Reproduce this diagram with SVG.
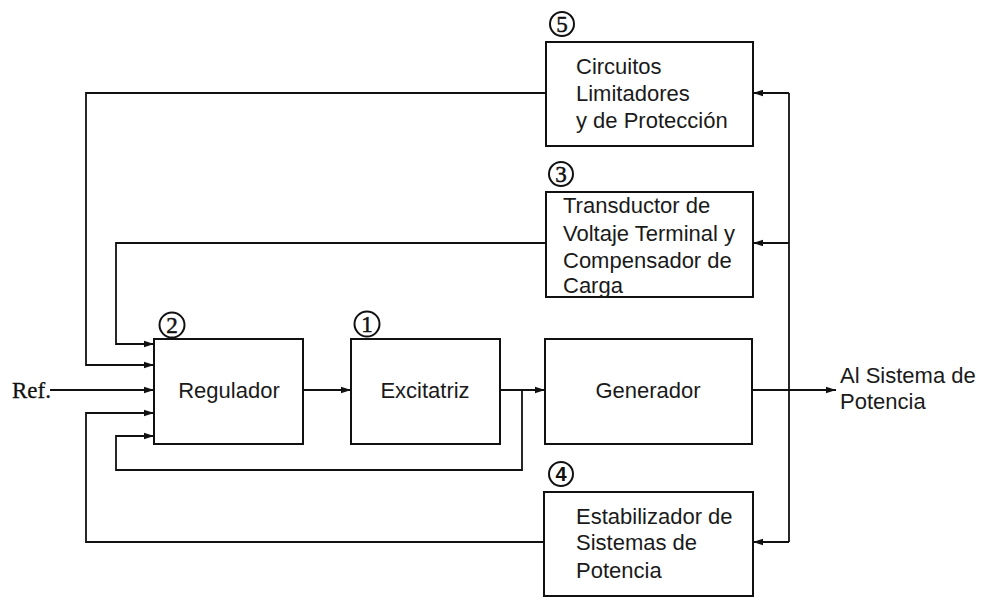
<svg xmlns="http://www.w3.org/2000/svg" width="981" height="597" viewBox="0 0 981 597">
  <style>
    .box { fill: #fff; stroke: #111; stroke-width: 2; }
    .wire { fill: none; stroke: #111; stroke-width: 1.8; }
    .lbl { font-family: "Liberation Sans", Arial, sans-serif; font-size: 22px; fill: #1a1a1a; }
    .mid { text-anchor: middle; }
    .num { fill: none; stroke: #111; stroke-width: 2; }
    .digit { font-family: "Liberation Serif", "Times New Roman", serif; font-size: 23px; fill: #111; stroke: #111; stroke-width: 0.5; text-anchor: middle; }
    .digit-s { font-family: "Liberation Sans", Arial, sans-serif; font-size: 20px; font-weight: bold; fill: #111; text-anchor: middle; }
    .ref { font-family: "Liberation Serif", "Times New Roman", serif; font-size: 23px; fill: #111; stroke: #111; stroke-width: 0.3; }
  </style>
  <defs>
    <marker id="arr" viewBox="0 0 10 8" refX="10" refY="4" markerWidth="10" markerHeight="8" markerUnits="userSpaceOnUse" orient="auto">
      <path d="M0,0.8 L10,4 L0,7.2 Z" fill="#111"/>
    </marker>
  </defs>
  <rect width="981" height="597" fill="#fff"/>

  <g id="connectors">
    <!-- reference input -->
    <line class="wire" x1="50" y1="390" x2="154" y2="390" marker-end="url(#arr)"/>
    <!-- forward path -->
    <line class="wire" x1="303" y1="390" x2="351" y2="390" marker-end="url(#arr)"/>
    <line class="wire" x1="500" y1="390" x2="545" y2="390" marker-end="url(#arr)"/>
    <line class="wire" x1="752" y1="390" x2="836" y2="390" marker-end="url(#arr)"/>
    <!-- exciter output feedback -->
    <polyline class="wire" points="522,390 522,470 116,470 116,436 154,436" marker-end="url(#arr)"/>
    <!-- limiter feedback -->
    <polyline class="wire" points="546,93 86,93 86,365 154,365" marker-end="url(#arr)"/>
    <!-- transducer feedback -->
    <polyline class="wire" points="546,243 116,243 116,344 154,344" marker-end="url(#arr)"/>
    <!-- stabilizer feedback -->
    <polyline class="wire" points="544,542 86,542 86,413 154,413" marker-end="url(#arr)"/>
    <!-- measurement bus on the right -->
    <line class="wire" x1="789" y1="93" x2="789" y2="542"/>
    <line class="wire" x1="789" y1="93" x2="753" y2="93" marker-end="url(#arr)"/>
    <line class="wire" x1="789" y1="243" x2="753" y2="243" marker-end="url(#arr)"/>
    <line class="wire" x1="789" y1="542" x2="753" y2="542" marker-end="url(#arr)"/>
  </g>

  <g id="ref-label">
    <text class="ref" x="12" y="398">Ref.</text>
  </g>

  <g id="regulador">
    <rect class="box" x="154" y="339" width="149" height="105"/>
    <text class="lbl mid" x="229" y="398">Regulador</text>
    <circle class="num" cx="172" cy="325" r="12.5"/>
    <text class="digit" x="172" y="333">2</text>
  </g>

  <g id="excitatriz">
    <rect class="box" x="351" y="339" width="149" height="105"/>
    <text class="lbl mid" x="425" y="398">Excitatriz</text>
    <circle class="num" cx="367" cy="324" r="12.5"/>
    <text class="digit" x="367" y="332">1</text>
  </g>

  <g id="generador">
    <rect class="box" x="545" y="339" width="207" height="105"/>
    <text class="lbl mid" x="648" y="398">Generador</text>
  </g>

  <g id="circuitos-limitadores">
    <rect class="box" x="546" y="42" width="207" height="104"/>
    <text class="lbl" x="576" y="74">Circuitos</text>
    <text class="lbl" x="576" y="101">Limitadores</text>
    <text class="lbl" x="576" y="128">y de Protección</text>
    <circle class="num" cx="562" cy="24" r="12"/>
    <text class="digit" x="562" y="32">5</text>
  </g>

  <g id="transductor">
    <rect class="box" x="546" y="192" width="207" height="105"/>
    <text class="lbl" x="563" y="213">Transductor de</text>
    <text class="lbl" x="563" y="241">Voltaje Terminal y</text>
    <text class="lbl" x="563" y="268">Compensador de</text>
    <text class="lbl" x="563" y="293">Carga</text>
    <circle class="num" cx="561" cy="174" r="12"/>
    <text class="digit" x="561" y="182">3</text>
  </g>

  <g id="estabilizador">
    <rect class="box" x="544" y="492" width="209" height="104"/>
    <text class="lbl" x="576" y="524">Estabilizador de</text>
    <text class="lbl" x="576" y="550">Sistemas de</text>
    <text class="lbl" x="576" y="578">Potencia</text>
    <circle class="num" cx="561" cy="474" r="12"/>
    <text class="digit-s" x="561" y="481">4</text>
  </g>

  <g id="salida">
    <text class="lbl" x="840" y="383">Al Sistema de</text>
    <text class="lbl" x="840" y="409">Potencia</text>
  </g>
</svg>
